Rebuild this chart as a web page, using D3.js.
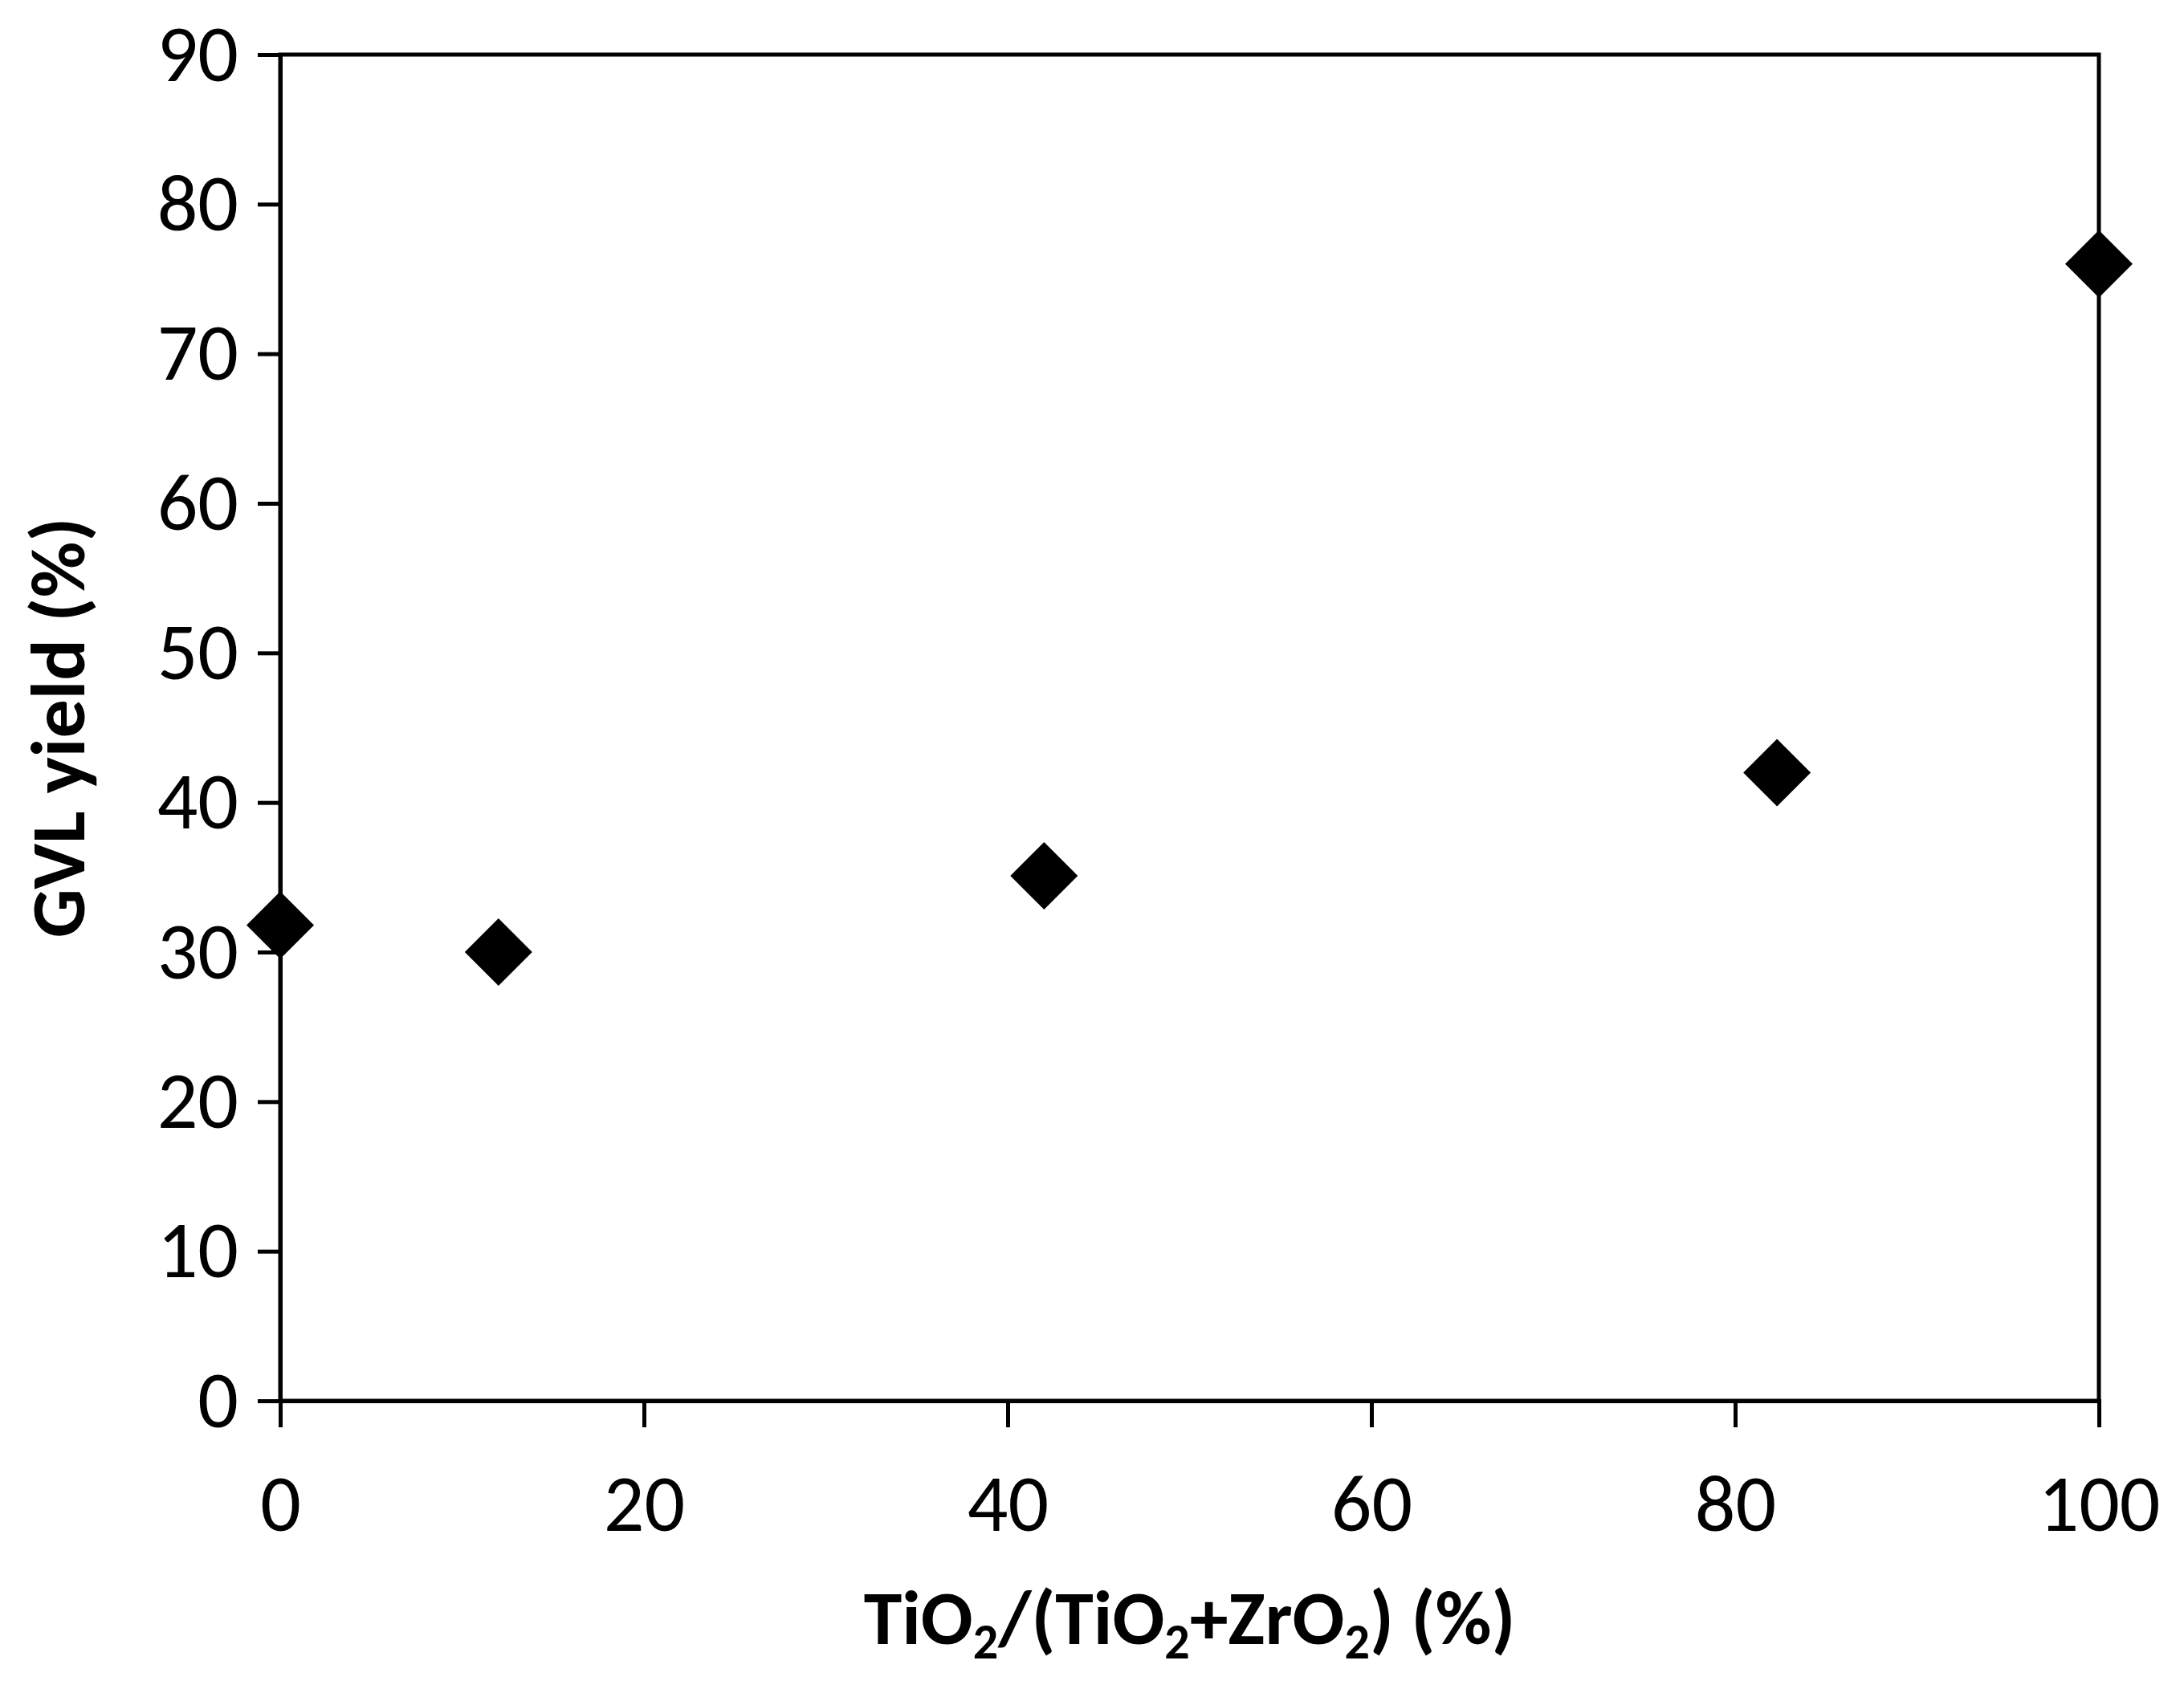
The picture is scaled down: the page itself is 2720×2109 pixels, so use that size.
<!DOCTYPE html>
<html><head><meta charset="utf-8">
<script src="https://cdn.jsdelivr.net/npm/d3@7"></script>
<style>body{margin:0;background:#fff}</style>
</head><body>
<svg id="chart" width="2720" height="2109"></svg>
<script>
// TiO2 fraction vs GVL yield
const xValues = [0, 12, 42, 82.3, 100];
const yValues = [31.8, 30, 35.1, 42, 76];
const xTicks = [0, 20, 40, 60, 80, 100];
const yTicks = [0, 10, 20, 30, 40, 50, 60, 70, 80, 90];

const margin = {left: 349, right: 106, top: 68, bottom: 364};
const width = 2720, height = 2109;
const font = "Carlito, 'Open Sans', 'Noto Sans', sans-serif";

const svg = d3.select("#chart");
const x = d3.scaleLinear().domain([0, 100]).range([margin.left, width - margin.right]);
const y = d3.scaleLinear().domain([0, 90]).range([height - margin.bottom, margin.top]);

// frame
svg.append("rect")
  .attr("x", x(0)).attr("y", y(90))
  .attr("width", x(100) - x(0)).attr("height", y(0) - y(90))
  .attr("fill", "none").attr("stroke", "#000").attr("stroke-width", 5);

const yAxis = svg.append("g")
  .attr("transform", `translate(${x(0)},0)`)
  .call(d3.axisLeft(y).tickValues(yTicks).tickSize(28).tickPadding(24));
const xAxis = svg.append("g")
  .attr("transform", `translate(0,${y(0)})`)
  .call(d3.axisBottom(x).tickValues(xTicks).tickSize(33).tickPadding(58));

[yAxis, xAxis].forEach(a => {
  a.select(".domain").attr("stroke-width", 5);
  a.selectAll(".tick line").attr("stroke-width", 5);
  a.selectAll("text").attr("font-family", font).attr("font-size", 100).attr("fill", "#000");
});

// diamonds
const half = 42;
svg.append("g").selectAll("path")
  .data(xValues.map((v, i) => [v, yValues[i]]))
  .join("path")
  .attr("d", d => {
    const cx = x(d[0]), cy = y(d[1]);
    return `M${cx},${cy - half}L${cx + half},${cy}L${cx},${cy + half}L${cx - half},${cy}Z`;
  })
  .attr("fill", "#000");

// axis titles
svg.append("text")
  .attr("transform", `translate(105,${(y(0) + y(90)) / 2}) rotate(-90)`)
  .attr("text-anchor", "middle")
  .attr("font-family", font).attr("font-size", 96).attr("font-weight", "bold")
  .text("GVL yield (%)");

const xt = svg.append("text")
  .attr("x", (x(0) + x(100)) / 2).attr("y", 2048)
  .attr("text-anchor", "middle")
  .attr("font-family", font).attr("font-size", 96).attr("font-weight", "bold");
[["TiO"], ["2", true], ["/(TiO"], ["2", true], ["+ZrO"], ["2", true], [") (%)"]].forEach(([t, sub], i, arr) => {
  const prevSub = i > 0 && arr[i - 1][1];
  xt.append("tspan")
    .attr("font-size", sub ? 62 : 96)
    .attr("dy", sub ? 18 : (prevSub ? -18 : 0))
    .text(t);
});
</script>
</body></html>
